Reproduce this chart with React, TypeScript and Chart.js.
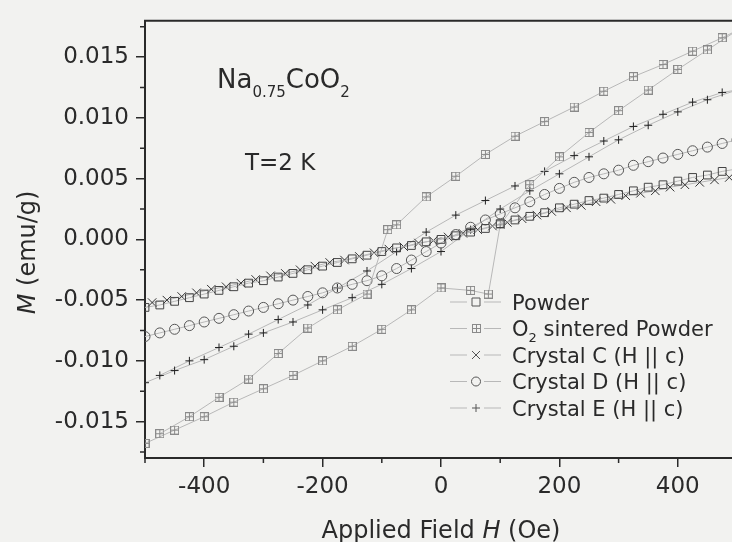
import React, { useEffect, useRef } from 'react';
import { Chart, registerables } from 'chart.js';

Chart.register(...registerables);

// ---------- data ----------
const fieldStep25 = [
  -500, -475, -450, -425, -400, -375, -350, -325, -300, -275, -250, -225, -200, -175, -150, -125, -100, -75, -50, -25,
  0, 25, 50, 75, 100, 125, 150, 175, 200, 225, 250, 275, 300, 325, 350, 375, 400, 425, 450, 475, 500,
];
const powderM = [
  -0.0056, -0.0054, -0.0051, -0.0048, -0.0045, -0.0042, -0.0039, -0.0036, -0.0034, -0.0031, -0.0028, -0.0025, -0.0022,
  -0.0019, -0.0016, -0.0013, -0.001, -0.0007, -0.0005, -0.0002, 0.0, 0.0003, 0.0006, 0.0009, 0.0013, 0.0016, 0.0019,
  0.0022, 0.0026, 0.0029, 0.0032, 0.0034, 0.0037, 0.004, 0.0043, 0.0045, 0.0048, 0.0051, 0.0053, 0.0056, 0.0058,
];
const fieldCrystalC = [
  -488, -463, -438, -413, -388, -363, -338, -313, -288, -263, -238, -213, -188, -163, -138, -113, -88, -63, -38, -13,
  12, 37, 62, 87, 112, 137, 162, 187, 212, 237, 262, 287, 312, 337, 362, 387, 412, 437, 462, 487,
];
const crystalCM = [
  -0.0052, -0.005, -0.0047, -0.0044, -0.0041, -0.0039, -0.0036, -0.0033, -0.003, -0.0028, -0.0025, -0.0022, -0.0019,
  -0.0017, -0.0014, -0.0011, -0.0008, -0.0006, -0.0003, -0.0001, 0.0002, 0.0005, 0.0008, 0.0011, 0.0014, 0.0017, 0.002,
  0.0023, 0.0026, 0.0028, 0.0031, 0.0033, 0.0036, 0.0038, 0.004, 0.0043, 0.0045, 0.0047, 0.0049, 0.0051,
];
const crystalDM = [
  -0.008, -0.0077, -0.0074, -0.0071, -0.0068, -0.0065, -0.0062, -0.0059, -0.0056, -0.0053, -0.005, -0.0047, -0.0044,
  -0.004, -0.0037, -0.0034, -0.003, -0.0024, -0.0017, -0.001, -0.0003, 0.0004, 0.001, 0.0016, 0.0021, 0.0026, 0.0031,
  0.0037, 0.0042, 0.0047, 0.0051, 0.0054, 0.0057, 0.0061, 0.0064, 0.0067, 0.007, 0.0073, 0.0076, 0.0079, 0.0082,
];
const crystalEFieldUp = [-500, -450, -400, -350, -300, -250, -200, -150, -100, -50, 0, 50, 100, 150, 200, 250, 300, 350, 400, 450, 500];
const crystalEUpM = [
  -0.0118, -0.0108, -0.0099, -0.0088, -0.0077, -0.0068, -0.0058, -0.0048, -0.0037, -0.0024, -0.001, 0.0008, 0.0025,
  0.004, 0.0054, 0.0068, 0.0082, 0.0094, 0.0105, 0.0115, 0.0123,
];
const crystalEFieldDown = [475, 425, 375, 325, 275, 225, 175, 125, 75, 25, -25, -75, -125, -175, -225, -275, -325, -375, -425, -475];
const crystalEDownM = [
  0.0121, 0.0113, 0.0103, 0.0093, 0.0081, 0.0069, 0.0056, 0.0044, 0.0032, 0.002, 0.0006, -0.001, -0.0026, -0.004,
  -0.0054, -0.0066, -0.0078, -0.0089, -0.01, -0.0112,
];
const o2FieldUp = [-500, -450, -400, -350, -300, -250, -200, -150, -100, -50, 0, 50, 80, 100, 150, 200, 250, 300, 350, 400, 450, 500];
const o2UpM = [
  -0.0168, -0.0157, -0.0146, -0.0134, -0.0123, -0.0112, -0.01, -0.0088, -0.0074, -0.0058, -0.004, -0.0042, -0.0045,
  0.0012, 0.0045, 0.0068, 0.0088, 0.0106, 0.0123, 0.014, 0.0156, 0.0172,
];
const o2FieldDown = [475, 425, 375, 325, 275, 225, 175, 125, 75, 25, -25, -75, -90, -125, -175, -225, -275, -325, -375, -425, -475];
const o2DownM = [
  0.0166, 0.0155, 0.0144, 0.0134, 0.0122, 0.0109, 0.0097, 0.0085, 0.007, 0.0052, 0.0035, 0.0012, 0.0008, -0.0045,
  -0.0058, -0.0073, -0.0094, -0.0115, -0.013, -0.0146, -0.016,
];

const seriesNames = ['Powder', 'O₂ sintered Powder', 'Crystal C (H || c)', 'Crystal D (H || c)', 'Crystal E (H || c)'];

const xMajorTicks = [-400, -200, 0, 200, 400];
const xMinorTicks = [-500, -300, -100, 100, 300, 500];
const yMajorTicks = [-0.015, -0.01, -0.005, 0, 0.005, 0.01, 0.015];
const yMinorTicks = [-0.0175, -0.0125, -0.0075, -0.0025, 0.0025, 0.0075, 0.0125, 0.0175];

const xTitleParts = ['Applied Field ', 'H', ' (Oe)'];
const yTitleParts = ['M', ' (emu/g)'];
const compoundParts = ['Na', '0.75', 'CoO', '2'];
const temperatureText = 'T=2 K';

// ---------- styling ----------
const FONT = '"DejaVu Sans", sans-serif';
const INK = '#2a2a2a';
const LINE_GREY = '#b8b8b8';
const BG = '#f2f2f0';

type Run = { text: string; size: number; italic?: boolean; dy?: number };

function fontOf(r: Run) {
  return `${r.italic ? 'italic ' : ''}${r.size}px ${FONT}`;
}

function drawRuns(ctx: CanvasRenderingContext2D, runs: Run[], x: number, y: number, align: 'left' | 'center') {
  let w = 0;
  runs.forEach((r) => {
    ctx.font = fontOf(r);
    w += ctx.measureText(r.text).width;
  });
  let cx = align === 'center' ? x - w / 2 : x;
  ctx.textAlign = 'left';
  ctx.textBaseline = 'alphabetic';
  runs.forEach((r) => {
    ctx.font = fontOf(r);
    ctx.fillText(r.text, cx, y + (r.dy || 0));
    cx += ctx.measureText(r.text).width;
  });
}

function makeBoxPlus(color: string, size: number) {
  const c = document.createElement('canvas');
  c.width = size;
  c.height = size;
  const g = c.getContext('2d')!;
  g.strokeStyle = color;
  g.lineWidth = 1;
  g.strokeRect(0.5, 0.5, size - 1, size - 1);
  g.beginPath();
  g.moveTo(size / 2, 0.5);
  g.lineTo(size / 2, size - 0.5);
  g.moveTo(0.5, size / 2);
  g.lineTo(size - 0.5, size / 2);
  g.stroke();
  return c;
}

function pts(xs: number[], ys: number[]) {
  return xs.map((x, i) => ({ x, y: ys[i] }));
}

type MarkerKind = 'rect' | 'boxplus' | 'crossRot' | 'circle' | 'cross';

function drawMarker(ctx: CanvasRenderingContext2D, kind: MarkerKind, x: number, y: number, color: string, img: HTMLCanvasElement) {
  ctx.save();
  ctx.strokeStyle = color;
  ctx.lineWidth = 1;
  ctx.beginPath();
  if (kind === 'rect') {
    ctx.rect(x - 4, y - 4, 8, 8);
  } else if (kind === 'boxplus') {
    ctx.drawImage(img, Math.round(x - img.width / 2), Math.round(y - img.height / 2));
  } else if (kind === 'crossRot') {
    ctx.moveTo(x - 4, y - 4);
    ctx.lineTo(x + 4, y + 4);
    ctx.moveTo(x - 4, y + 4);
    ctx.lineTo(x + 4, y - 4);
  } else if (kind === 'circle') {
    ctx.arc(x, y, 4.5, 0, Math.PI * 2);
  } else {
    ctx.moveTo(x - 4, y);
    ctx.lineTo(x + 4, y);
    ctx.moveTo(x, y - 4);
    ctx.lineTo(x, y + 4);
  }
  ctx.stroke();
  ctx.restore();
}

const markerKinds: MarkerKind[] = ['rect', 'boxplus', 'crossRot', 'circle', 'cross'];
const markerColors = ['#444444', '#8a8a8a', '#333333', '#555555', '#222222'];

function makeDecor(img: HTMLCanvasElement) {
  return {
    id: 'decor',
    afterDraw(chart: any) {
      const { ctx, chartArea: ca, scales } = chart;
      const xs = scales.x;
      const ys = scales.y;
      ctx.save();
      // top frame line
      ctx.strokeStyle = INK;
      ctx.lineWidth = 2;
      ctx.beginPath();
      ctx.moveTo(ca.left - 1, ca.top);
      ctx.lineTo(ca.right + 1, ca.top);
      ctx.stroke();
      // minor ticks
      ctx.lineWidth = 1.5;
      ctx.beginPath();
      xMinorTicks.forEach((v) => {
        const p = xs.getPixelForValue(v);
        ctx.moveTo(p, ca.bottom);
        ctx.lineTo(p, ca.bottom + 5);
      });
      yMinorTicks.forEach((v) => {
        const p = ys.getPixelForValue(v);
        ctx.moveTo(ca.left, p);
        ctx.lineTo(ca.left - 5, p);
      });
      ctx.stroke();

      ctx.fillStyle = INK;
      // x title
      drawRuns(
        ctx,
        [
          { text: xTitleParts[0], size: 24 },
          { text: xTitleParts[1], size: 24, italic: true },
          { text: xTitleParts[2], size: 24 },
        ],
        (ca.left + ca.right) / 2,
        538,
        'center'
      );
      // y title
      ctx.save();
      ctx.translate(35, (ca.top + ca.bottom) / 2 + 13);
      ctx.rotate(-Math.PI / 2);
      drawRuns(
        ctx,
        [
          { text: yTitleParts[0], size: 24, italic: true },
          { text: yTitleParts[1], size: 24 },
        ],
        0,
        0,
        'center'
      );
      ctx.restore();

      // annotations
      drawRuns(
        ctx,
        [
          { text: compoundParts[0], size: 26 },
          { text: compoundParts[1], size: 15, dy: 9 },
          { text: compoundParts[2], size: 26 },
          { text: compoundParts[3], size: 15, dy: 9 },
        ],
        ca.left + 72,
        88,
        'left'
      );
      drawRuns(ctx, [{ text: temperatureText, size: 23 }], ca.left + 100, 170, 'left');

      // legend
      const sx = ca.left + 331;
      const y0 = 302;
      const step = 26.5;
      seriesNames.forEach((name, i) => {
        const cy = y0 + i * step;
        ctx.strokeStyle = LINE_GREY;
        ctx.lineWidth = 1;
        ctx.beginPath();
        ctx.moveTo(sx - 26, cy);
        ctx.lineTo(sx - 9, cy);
        ctx.moveTo(sx + 8, cy);
        ctx.lineTo(sx + 25, cy);
        ctx.stroke();
        drawMarker(ctx, markerKinds[i], sx, cy, '#555', img);
        ctx.fillStyle = INK;
        const parts = name.split('₂');
        const runs: Run[] = [];
        parts.forEach((p, k) => {
          if (k > 0) runs.push({ text: '2', size: 13, dy: 6 });
          runs.push({ text: p, size: 21 });
        });
        drawRuns(ctx, runs, sx + 36, cy + 7.7, 'left');
      });
      ctx.restore();
    },
  };
}

export default function App() {
  const ref = useRef<HTMLCanvasElement>(null);
  useEffect(() => {
    const canvas = ref.current!;
    const boxPlus = makeBoxPlus('#8a8a8a', 9);
    const common = { showLine: true, borderColor: LINE_GREY, borderWidth: 1, pointBorderWidth: 1, pointBackgroundColor: 'rgba(0,0,0,0)' };
    const chart = new Chart(canvas, {
      type: 'scatter',
      data: {
        datasets: [
          { ...common, label: seriesNames[0], data: pts(fieldStep25, powderM), pointStyle: 'rect', pointRadius: 5.5, pointBorderColor: markerColors[0] },
          {
            ...common,
            label: seriesNames[1],
            data: [...pts(o2FieldUp, o2UpM), ...pts(o2FieldDown, o2DownM)],
            pointStyle: boxPlus,
            pointRadius: 5,
            pointBorderColor: markerColors[1],
          },
          { ...common, label: seriesNames[2], data: pts(fieldCrystalC, crystalCM), pointStyle: 'crossRot', pointRadius: 6, pointBorderColor: markerColors[2] },
          { ...common, label: seriesNames[3], data: pts(fieldStep25, crystalDM), pointStyle: 'circle', pointRadius: 5, pointBorderColor: markerColors[3] },
          {
            ...common,
            label: seriesNames[4],
            data: [...pts(crystalEFieldUp, crystalEUpM), ...pts(crystalEFieldDown, crystalEDownM)],
            pointStyle: 'cross',
            pointRadius: 4,
            pointBorderColor: markerColors[4],
          },
        ] as any,
      },
      options: {
        responsive: false,
        animation: false,
        devicePixelRatio: 1,
        layout: { padding: { top: 15, right: 8, left: 0, bottom: 0 } },
        plugins: { legend: { display: false }, tooltip: { enabled: false } },
        scales: {
          x: {
            type: 'linear',
            min: -500,
            max: 500,
            afterBuildTicks: (s: any) => {
              s.ticks = xMajorTicks.map((value) => ({ value }));
            },
            afterFit: (s: any) => {
              s.height = 84;
            },
            grid: { display: true, drawOnChartArea: false, drawTicks: true, tickLength: 9, color: INK, lineWidth: 1.5 },
            border: { display: true, color: INK, width: 2 },
            ticks: { autoSkip: false, maxRotation: 0, padding: 6, color: INK, font: { family: FONT, size: 23 }, callback: (v: any) => String(v) },
          },
          y: {
            type: 'linear',
            min: -0.018,
            max: 0.018,
            afterBuildTicks: (s: any) => {
              s.ticks = yMajorTicks.map((value) => ({ value }));
            },
            afterFit: (s: any) => {
              s.width = 145;
            },
            grid: { display: true, drawOnChartArea: false, drawTicks: true, tickLength: 9, color: INK, lineWidth: 1.5 },
            border: { display: true, color: INK, width: 2 },
            ticks: { autoSkip: false, padding: 7, color: INK, font: { family: FONT, size: 23 }, callback: (v: any) => Number(v).toFixed(3) },
          },
        },
      } as any,
      plugins: [makeDecor(boxPlus)],
    });
    return () => chart.destroy();
  }, []);

  return (
    <div style={{ position: 'fixed', left: 0, top: 0, width: 732, height: 542, overflow: 'hidden', background: BG }}>
      <canvas ref={ref} width={745} height={542} style={{ display: 'block' }} />
    </div>
  );
}
